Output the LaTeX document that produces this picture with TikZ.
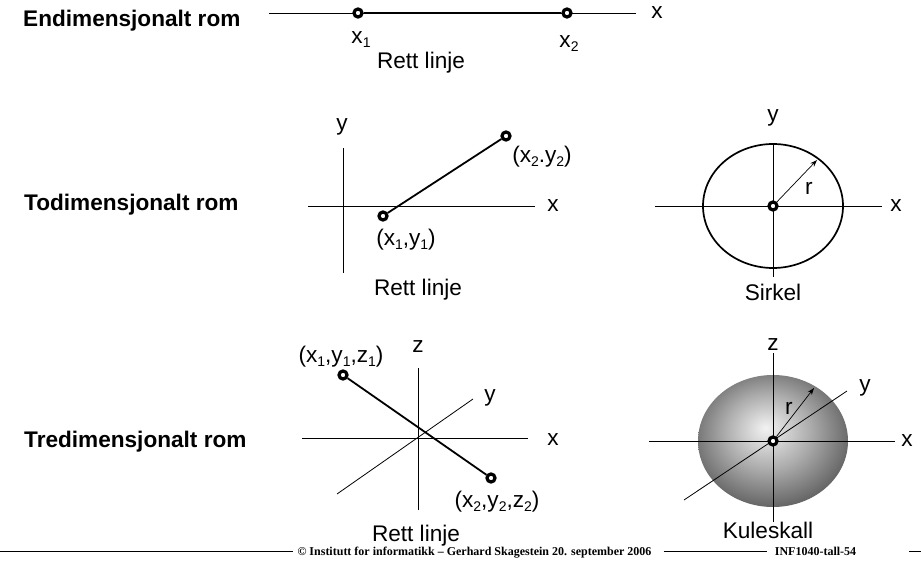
\documentclass[tikz,border=0pt]{standalone}
\usepackage{fontspec}
\setmainfont{Liberation Sans}
\newfontfamily\footfont{Liberation Serif}
\usepackage{tikz}
\usetikzlibrary{arrows.meta,calc}
\newcommand\lidx[1]{\raisebox{-4pt}{\fontsize{14}{14}\selectfont #1}}
\pgfdeclareradialshading{kule}{\pgfpoint{-2.5bp}{5bp}}{color(0bp)=(black!5); color(14bp)=(black!32); color(29bp)=(black!64); color(50bp)=(black!64)}
\tikzset{
  lbl/.style    ={font=\fontsize{22.6}{26}\selectfont, inner sep=1pt},
  romlbl/.style ={font=\fontsize{22.6}{26}\selectfont\bfseries, inner sep=0pt, anchor=base west},
  foot/.style   ={font=\footfont\bfseries\fontsize{12}{13}\selectfont, inner sep=0pt, anchor=base},
  axis/.style   ={draw, line width=0.8pt},
  seg/.style    ={draw, line width=1.8pt},
  pt/.style     ={draw, circle, line width=3.2pt, fill=white, minimum size=8pt, inner sep=0pt},
  rad/.style    ={-{Stealth[length=7pt,width=5pt]}, line width=0.7pt},
}

\begin{document}
\begin{tikzpicture}[x=1pt, y=-1pt, every node/.style={lbl}]
  \useasboundingbox (0,0) rectangle (921,561);

  % en dimensjon
  \node[romlbl] (rom1) at (23,27) {Endimensjonalt rom};
  \coordinate (a1w) at (269,13); \coordinate (a1e) at (636,13);
  \draw[axis] (a1w) -- (a1e);
  \node (a1x) at (657,13) {x};
  \node[pt] (p1) at (358,13) {};
  \node[pt] (p2) at (567,13) {};
  \draw[seg, line width=2.2pt] (p1) -- (p2);
  \node (p1l) at (361,40) {x\lidx{1}};
  \node (p2l) at (569,44) {x\lidx{2}};
  \node (rl1) at (421,63) {Rett linje};

  % to dimensjoner
  \node[romlbl] (rom2) at (24,211) {Todimensjonalt rom};
  \coordinate (b2w) at (308,206); \coordinate (b2e) at (535,206);
  \coordinate (b2s) at (343,273); \coordinate (b2n) at (343,148);
  \draw[axis] (b2w) -- (b2e);
  \draw[axis] (b2s) -- (b2n);
  \node (b2x) at (553,206) {x};
  \node (b2y) at (342,127) {y};
  \node[pt] (q1) at (383,216) {};
  \node[pt] (q2) at (506,136) {};
  \draw[seg] (q1) -- (q2);
  \node (q1l) at (406,240) {(x\lidx{1},y\lidx{1})};
  \node (q2l) at (542,157) {(x\lidx{2}.y\lidx{2})};
  \node (rl2) at (418,290) {Rett linje};

  \coordinate (o2) at (773,206);
  \draw[line width=1.7pt] (o2) ellipse [x radius=70pt, y radius=62pt];
  \coordinate (c2w) at (655,206); \coordinate (c2e) at (882,206);
  \coordinate (c2s) at (773,277); \coordinate (c2n) at (773,143);
  \draw[axis] (c2w) -- (c2e);
  \draw[axis] (c2s) -- (c2n);
  \node (c2x) at (896,206) {x};
  \node (c2y) at (773,118) {y};
  \node[pt] (m2) at (o2) {};
  \coordinate (r2) at (817,160);
  \draw[rad] (m2) -- (r2);
  \node (r2l) at (809,188) {r};
  \node (sirkel) at (773,292) {Sirkel};

  % tre dimensjoner
  \node[romlbl] (rom3) at (24,447) {Tredimensjonalt rom};
  \coordinate (d3w) at (302,438); \coordinate (d3e) at (528,438);
  \coordinate (d3s) at (418,510); \coordinate (d3n) at (418,368);
  \coordinate (d3a) at (337,494); \coordinate (d3b) at (473,399);
  \draw[axis] (d3w) -- (d3e);
  \draw[axis] (d3s) -- (d3n);
  \draw[axis] (d3a) -- (d3b);
  \node (d3x) at (553,440) {x};
  \node (d3y) at (490,398) {y};
  \node (d3z) at (418,347) {z};
  \node[pt] (s1) at (343,375) {};
  \node[pt] (s2) at (491,478) {};
  \draw[seg] (s1) -- (s2);
  \node (s1l) at (341,357) {(x\lidx{1},y\lidx{1},z\lidx{1})};
  \node (s2l) at (497,502) {(x\lidx{2},y\lidx{2},z\lidx{2})};
  \node (rl3) at (416,536) {Rett linje};

  \coordinate (o3) at (773,441);
  \shade[shading=kule] (o3) ellipse [x radius=75pt, y radius=66pt];
  \coordinate (k3w) at (649,441); \coordinate (k3e) at (895,441);
  \coordinate (k3s) at (773,522); \coordinate (k3n) at (773,353);
  \coordinate (k3a) at (684,500); \coordinate (k3b) at (847,391);
  \draw[axis] (k3w) -- (k3e);
  \draw[axis] (k3s) -- (k3n);
  \draw[axis] (k3a) -- (k3b);
  \node (k3x) at (907,441) {x};
  \node (k3y) at (865,388) {y};
  \node (k3z) at (773,345) {z};
  \node[pt] (m3) at (o3) {};
  \coordinate (r3) at (814,388);
  \draw[rad] (m3) -- (r3);
  \node (r3l) at (789,408) {r};
  \node (kuleskall) at (768,530) {Kuleskall};

  % bunntekst
  \coordinate (f0) at (0,551); \coordinate (f9) at (921,551);
  \node[foot] (ft1) at (474.5,555) {\textcopyright{} Institutt for informatikk \textendash{} Gerhard Skagestein 20. september 2006};
  \node[foot] (ft2) at (815.5,555) {INF1040-tall-54};
  \draw[line width=0.8pt] (f0) -- ($(f0 -| ft1.west)+(-4,0)$);
  \draw[line width=0.8pt] ($(f0 -| ft1.east)+(12,0)$) -- ($(f0 -| ft2.west)+(-8,0)$);
  \draw[line width=0.8pt] ($(f0 -| ft2.east)+(53,0)$) -- (f9);
\end{tikzpicture}
\end{document}
